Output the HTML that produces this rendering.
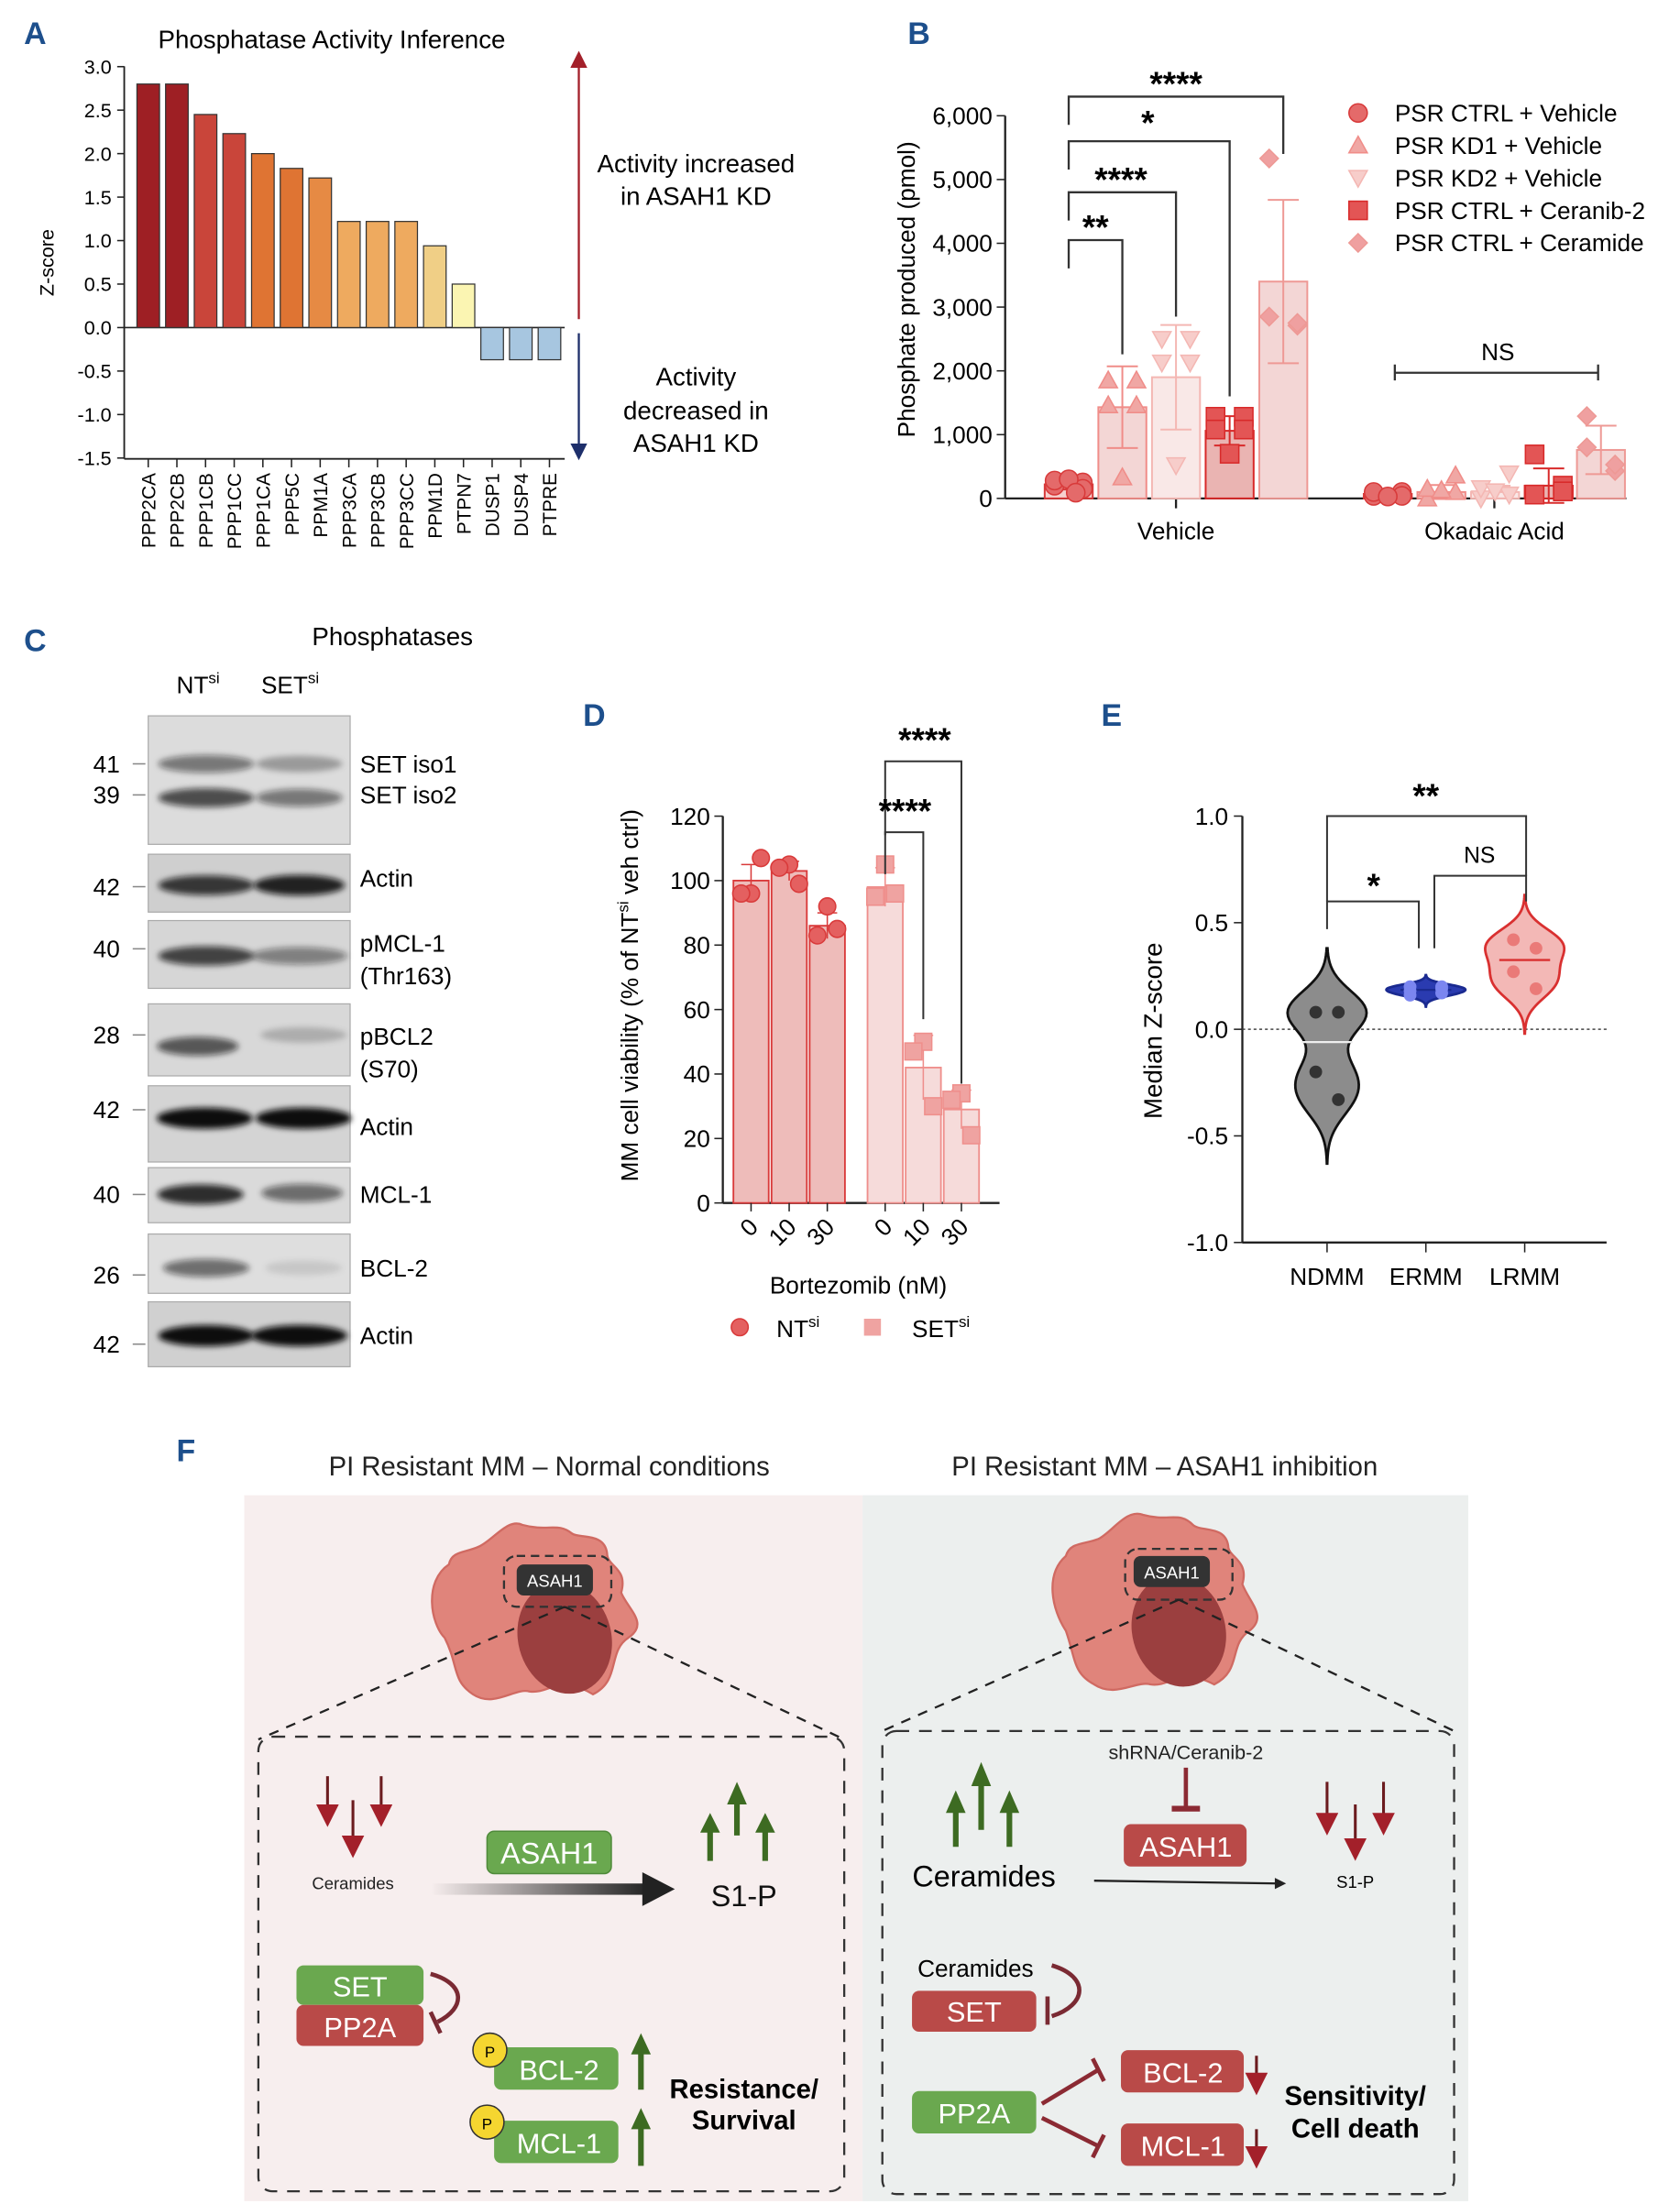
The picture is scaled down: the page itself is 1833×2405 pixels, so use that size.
<!DOCTYPE html>
<html><head><meta charset="utf-8">
<style>
html,body{margin:0;padding:0;background:#fff;}
svg{display:block;font-family:"Liberation Sans",Arial,sans-serif;}
</style></head>
<body>
<svg id="fig" width="1833" height="2405" viewBox="0 0 1190 1561" preserveAspectRatio="none" xmlns="http://www.w3.org/2000/svg">
<defs>
<filter id="blur" x="-20%" y="-100%" width="140%" height="300%"><feGaussianBlur stdDeviation="2"/></filter>
<linearGradient id="arrg" x1="0" x2="1"><stop offset="0" stop-color="#222" stop-opacity="0"/><stop offset="1" stop-color="#222"/></linearGradient>
<marker id="ahR" markerWidth="8" markerHeight="8" refX="4" refY="4" orient="auto"><path d="M0,0 L8,4 L0,8z" fill="#a3202a"/></marker>
<marker id="ahB" markerWidth="8" markerHeight="8" refX="4" refY="4" orient="auto"><path d="M0,0 L8,4 L0,8z" fill="#1e2f6b"/></marker>
</defs>

<g fill="#1d4f8c" font-weight="bold" font-size="22">
<text x="17" y="31">A</text>
<text x="643" y="31">B</text>
<text x="17" y="461">C</text>
<text x="413" y="514">D</text>
<text x="780" y="514">E</text>
<text x="125" y="1035">F</text>
</g>

<g id="pA"></g>
<g id="pB"></g>
<g id="pC"></g>
<g id="pD"></g>
<g id="pE"></g>

<g>
<text x="389" y="1045" font-size="19" text-anchor="middle" fill="#222">PI Resistant MM – Normal conditions</text>
<text x="825" y="1045" font-size="19" text-anchor="middle" fill="#222">PI Resistant MM – ASAH1 inhibition</text>
<rect x="173" y="1059" width="438" height="500" fill="#f7eeee"/>
<rect x="611" y="1059" width="429" height="500" fill="#ecefee"/>
<path d="M318,1108 C300,1120 305,1150 315,1160 C325,1180 320,1190 335,1200 C350,1210 365,1195 375,1198 C390,1200 395,1185 420,1200 C440,1190 430,1170 445,1160 C460,1150 445,1140 440,1128 C445,1110 430,1110 430,1100 C428,1085 410,1090 405,1086 C395,1078 388,1085 370,1080 C360,1075 350,1090 340,1095 C330,1100 320,1098 318,1108z" fill="#e0847b" stroke="#d06a62" stroke-width="1.5"/>
<ellipse cx="400" cy="1160" rx="33" ry="40" transform="rotate(-15 400 1160)" fill="#9b3f3f"/>
<rect x="357" y="1102" width="76" height="36" rx="9" fill="none" stroke="#333" stroke-dasharray="6,4" stroke-width="1.5"/>
<rect x="366" y="1108" width="54" height="22" rx="5" fill="#333"/>
<text x="393" y="1124" font-size="12" fill="#fff" text-anchor="middle">ASAH1</text>
<path d="M400,1138 L183,1232 M400,1138 L598,1232" stroke="#222" stroke-dasharray="7,6" stroke-width="1.5"/>
<rect x="183" y="1230" width="415" height="322" rx="10" fill="none" stroke="#333" stroke-dasharray="9,7" stroke-width="1.5"/>
<g stroke="#6b1b1e" stroke-width="2" marker-end="url(#ahR)"><line x1="232" y1="1258" x2="232" y2="1286"/><line x1="250" y1="1275" x2="250" y2="1308"/><line x1="270" y1="1258" x2="270" y2="1286"/></g>
<text x="250" y="1338" font-size="12" text-anchor="middle" fill="#222">Ceramides</text>
<rect x="305" y="1334" width="155" height="8" fill="url(#arrg)"/><path d="M455,1326 L478,1338 L455,1350z" fill="#222"/>
<rect x="345" y="1297" width="88" height="30" rx="5" fill="#6aa84f" stroke="#4f8a3a"/>
<text x="389" y="1320" font-size="21" fill="#fff" text-anchor="middle">ASAH1</text>
<g stroke="#3d6b22" stroke-width="4"><line x1="503" y1="1318" x2="503" y2="1296"/><line x1="522" y1="1300" x2="522" y2="1275"/><line x1="542" y1="1318" x2="542" y2="1296"/></g>
<g fill="#3d6b22"><path d="M496,1298 L503,1284 L510,1298z"/><path d="M515,1278 L522,1262 L529,1278z"/><path d="M535,1298 L542,1284 L549,1298z"/></g>
<text x="527" y="1350" font-size="21" text-anchor="middle" fill="#111">S1-P</text>
<rect x="210" y="1392" width="90" height="28" rx="5" fill="#6aa84f"/><text x="255" y="1414" font-size="20" fill="#fff" text-anchor="middle">SET</text>
<rect x="210" y="1420" width="90" height="29" rx="5" fill="#b94a48"/><text x="255" y="1443" font-size="20" fill="#fff" text-anchor="middle">PP2A</text>
<path d="M305,1398 C330,1405 330,1422 310,1432 M305,1425 L312,1440" stroke="#7a2a33" stroke-width="3" fill="none"/>
<rect x="350" y="1450" width="88" height="30" rx="5" fill="#6aa84f"/><text x="396" y="1473" font-size="20" fill="#fff" text-anchor="middle">BCL-2</text>
<circle cx="347" cy="1452" r="12" fill="#f5d630" stroke="#333"/><text x="347" y="1457" font-size="11" text-anchor="middle">P</text>
<rect x="350" y="1502" width="88" height="30" rx="5" fill="#6aa84f"/><text x="396" y="1525" font-size="20" fill="#fff" text-anchor="middle">MCL-1</text>
<circle cx="345" cy="1503" r="12" fill="#f5d630" stroke="#333"/><text x="345" y="1508" font-size="11" text-anchor="middle">P</text>
<g stroke="#3d6b22" stroke-width="4"><line x1="454" y1="1480" x2="454" y2="1452"/><line x1="454" y1="1534" x2="454" y2="1505"/></g>
<g fill="#3d6b22"><path d="M447,1455 L454,1440 L461,1455z"/><path d="M447,1508 L454,1493 L461,1508z"/></g>
<text x="527" y="1486" font-size="19" font-weight="bold" text-anchor="middle">Resistance/</text>
<text x="527" y="1508" font-size="19" font-weight="bold" text-anchor="middle">Survival</text>
<path d="M755,1102 C740,1115 745,1140 755,1155 C762,1175 760,1185 775,1193 C790,1203 805,1190 815,1193 C830,1195 835,1180 860,1193 C880,1183 870,1165 885,1155 C898,1145 885,1135 880,1122 C885,1105 870,1103 870,1095 C868,1080 850,1085 845,1080 C835,1070 828,1078 810,1073 C798,1068 788,1085 778,1090 C768,1094 758,1092 755,1102z" fill="#e0847b" stroke="#d06a62" stroke-width="1.5"/>
<ellipse cx="835" cy="1155" rx="33" ry="40" transform="rotate(-15 835 1155)" fill="#9b3f3f"/>
<rect x="797" y="1097" width="76" height="36" rx="9" fill="none" stroke="#333" stroke-dasharray="6,4" stroke-width="1.5"/>
<rect x="803" y="1102" width="54" height="22" rx="5" fill="#333"/>
<text x="830" y="1118" font-size="12" fill="#fff" text-anchor="middle">ASAH1</text>
<path d="M835,1133 L625,1226 M835,1133 L1030,1226" stroke="#222" stroke-dasharray="7,6" stroke-width="1.5"/>
<rect x="625" y="1226" width="405" height="328" rx="10" fill="none" stroke="#333" stroke-dasharray="9,7" stroke-width="1.5"/>
<text x="840" y="1246" font-size="14" text-anchor="middle" fill="#222">shRNA/Ceranib-2</text>
<line x1="840" y1="1252" x2="840" y2="1280" stroke="#8b2a33" stroke-width="3"/><line x1="830" y1="1281" x2="850" y2="1281" stroke="#8b2a33" stroke-width="4"/>
<rect x="796" y="1292" width="87" height="30" rx="5" fill="#b94a48"/><text x="840" y="1315" font-size="20" fill="#fff" text-anchor="middle">ASAH1</text>
<g stroke="#3d6b22" stroke-width="4"><line x1="677" y1="1308" x2="677" y2="1282"/><line x1="695" y1="1296" x2="695" y2="1264"/><line x1="715" y1="1308" x2="715" y2="1282"/></g>
<g fill="#3d6b22"><path d="M670,1284 L677,1268 L684,1284z"/><path d="M688,1265 L695,1248 L702,1265z"/><path d="M708,1284 L715,1268 L722,1284z"/></g>
<text x="697" y="1336" font-size="21" text-anchor="middle">Ceramides</text>
<line x1="775" y1="1332" x2="905" y2="1334" stroke="#222" stroke-width="1.5"/><path d="M903,1330 L911,1334 L903,1338z" fill="#222"/>
<g stroke="#6b1b1e" stroke-width="2" marker-end="url(#ahR)"><line x1="940" y1="1262" x2="940" y2="1292"/><line x1="960" y1="1278" x2="960" y2="1310"/><line x1="980" y1="1262" x2="980" y2="1292"/></g>
<text x="960" y="1337" font-size="12" text-anchor="middle">S1-P</text>
<text x="691" y="1400" font-size="17" text-anchor="middle">Ceramides</text>
<path d="M745,1392 C772,1400 770,1420 745,1428 M742,1414 L742,1434" stroke="#7a2a33" stroke-width="3" fill="none"/>
<rect x="646" y="1410" width="88" height="29" rx="5" fill="#b94a48"/><text x="690" y="1432" font-size="20" fill="#fff" text-anchor="middle">SET</text>
<rect x="646" y="1481" width="88" height="30" rx="5" fill="#6aa84f"/><text x="690" y="1504" font-size="20" fill="#fff" text-anchor="middle">PP2A</text>
<path d="M738,1490 L778,1466 M738,1500 L778,1520" stroke="#8b2a33" stroke-width="3"/><line x1="774" y1="1458" x2="782" y2="1474" stroke="#8b2a33" stroke-width="3"/><line x1="774" y1="1528" x2="782" y2="1512" stroke="#8b2a33" stroke-width="3"/>
<rect x="794" y="1452" width="87" height="30" rx="5" fill="#b94a48"/><text x="838" y="1475" font-size="20" fill="#fff" text-anchor="middle">BCL-2</text>
<rect x="794" y="1504" width="87" height="30" rx="5" fill="#b94a48"/><text x="838" y="1527" font-size="20" fill="#fff" text-anchor="middle">MCL-1</text>
<g stroke="#6b1b1e" stroke-width="2" marker-end="url(#ahR)"><line x1="890" y1="1456" x2="890" y2="1476"/><line x1="890" y1="1508" x2="890" y2="1528"/></g>
<text x="960" y="1491" font-size="19" font-weight="bold" text-anchor="middle">Sensitivity/</text>
<text x="960" y="1514" font-size="19" font-weight="bold" text-anchor="middle">Cell death</text>
</g>

<script>
const NS="http://www.w3.org/2000/svg";
function mk(parent,tag,attrs,txt){const e=document.createElementNS(NS,tag);for(const k in attrs)e.setAttribute(k,attrs[k]);if(txt!==undefined)e.textContent=txt;parent.appendChild(e);return e;}

/* ---------- Panel A ---------- */
const aCategories=["PPP2CA","PPP2CB","PPP1CB","PPP1CC","PPP1CA","PPP5C","PPM1A","PPP3CA","PPP3CB","PPP3CC","PPM1D","PTPN7","DUSP1","DUSP4","PTPRE"];
const aValues=[2.8,2.8,2.45,2.23,2.0,1.83,1.72,1.22,1.22,1.22,0.94,0.5,-0.37,-0.37,-0.37];
const aColors=["#9e1f24","#9e1f24","#c9453a","#c9453a","#df7433","#df7433","#e68a44","#eeaa5f","#eeaa5f","#eeaa5f","#f0cf86","#fbf5b2","#a7c6e0","#a7c6e0","#a7c6e0"];
const aTicks=[3.0,2.5,2.0,1.5,1.0,0.5,0.0,-0.5,-1.0,-1.5];
(function(){
 const g=document.getElementById('pA');
 const y=v=>232-v*61.6, x0=96, step=20.3;
 mk(g,'text',{x:235,y:34,'font-size':18,'text-anchor':'middle',},'Phosphatase Activity Inference');
 mk(g,'line',{x1:88,y1:47,x2:88,y2:325,stroke:'#222','stroke-width':1.2});
 mk(g,'line',{x1:88,y1:325,x2:400,y2:325,stroke:'#222','stroke-width':1.2});
 mk(g,'line',{x1:88,y1:y(0),x2:400,y2:y(0),stroke:'#222','stroke-width':1});
 aTicks.forEach(t=>{mk(g,'line',{x1:83,y1:y(t),x2:88,y2:y(t),stroke:'#222'});
  const tl=mk(g,'text',{x:79,y:y(t)+5,'font-size':14,'text-anchor':'end'},t.toFixed(1));
  
  });
 const yt=mk(g,'text',{x:38,y:186,'font-size':14,'text-anchor':'middle',transform:'rotate(-90 38 186)'},'Z-score');
 
 
 aCategories.forEach((c,i)=>{
  const cx=x0+i*step+9, v=aValues[i];
  const r=mk(g,'rect',{x:cx-8,y:Math.min(y(v),y(0)),width:16,height:Math.abs(y(v)-y(0)),fill:aColors[i],stroke:'#333','stroke-width':0.8});
  
  
  mk(g,'line',{x1:cx,y1:325,x2:cx,y2:331,stroke:'#222'});
  const t=mk(g,'text',{x:cx+5,y:335,'font-size':13.5,'text-anchor':'end',transform:`rotate(-90 ${cx+5} 335)`},c);
  
  
 });
 mk(g,'line',{x1:410,y1:226,x2:410,y2:42,stroke:'#a3202a','stroke-width':1.5,'marker-end':'url(#ahR)'});
 mk(g,'line',{x1:410,y1:236,x2:410,y2:320,stroke:'#1e2f6b','stroke-width':1.5,'marker-end':'url(#ahB)'});
 [['Activity increased',122],['in ASAH1 KD',145]].forEach(a=>mk(g,'text',{x:493,y:a[1],'font-size':18,'text-anchor':'middle'},a[0]));
 [['Activity',273],['decreased in',297],['ASAH1 KD',320]].forEach(a=>mk(g,'text',{x:493,y:a[1],'font-size':18,'text-anchor':'middle'},a[0]));
})();

/* ---------- Panel B ---------- */
const bGroups=["Vehicle","Okadaic Acid"];
const bSeries=["PSR CTRL + Vehicle","PSR KD1 + Vehicle","PSR KD2 + Vehicle","PSR CTRL + Ceranib-2","PSR CTRL + Ceramide"];
const bMeansVehicle=[220,1430,1900,1060,3400];
const bSdVehicle=[80,640,820,230,1280];
const bMeansOkadaic=[70,100,100,200,760];
const bSdOkadaic=[40,110,100,270,380];
const bPointsVehicle=[[200,250,280,150,300,90],[1850,1850,1460,1460,330],[2500,2500,2130,2130,520],[1280,1280,1080,1080,700],[5330,2710,2850,2750]];
const bPointsOkadaic=[[40,100,100,40,30],[0,100,150,360,130],[0,60,160,390,110],[60,200,690,110],[1290,430,800,530]];
const bTicks=[0,1000,2000,3000,4000,5000,6000];
(function(){
 const g=document.getElementById('pB');
 const y=v=>353-v*0.04517;
 const shapes=['circle','tri','itri','square','diamond'];
 const fills=['#e46a6a','#f0a7a4','#f7cdca','#e35555','#efa0a0'];
 const barFills=['#f6d1cf','#f3d6d5','#f9e8e7','#eab4b2','#f3d6d5'];
 const strokes=['#d83a3a','#f08d89','#f4b7b3','#d82a2a','#ee9995'];
 function sym(s,cx,cy,f,st){
  const r=6.5;let e;
  if(s==='circle')e=mk(g,'circle',{cx,cy,r,fill:f,stroke:st});
  else if(s==='square')e=mk(g,'rect',{x:cx-r,y:cy-r,width:2*r,height:2*r,fill:f,stroke:st});
  else if(s==='tri')e=mk(g,'path',{d:`M${cx},${cy-r} L${cx+r},${cy+r*0.8} L${cx-r},${cy+r*0.8}z`,fill:f,stroke:st});
  else if(s==='itri')e=mk(g,'path',{d:`M${cx},${cy+r} L${cx+r},${cy-r*0.8} L${cx-r},${cy-r*0.8}z`,fill:f,stroke:st});
  else e=mk(g,'path',{d:`M${cx},${cy-r} L${cx+r},${cy} L${cx},${cy+r} L${cx-r},${cy}z`,fill:f,stroke:st});
  return e;}
 mk(g,'line',{x1:712,y1:82,x2:712,y2:353,stroke:'#222','stroke-width':1.5});
 mk(g,'line',{x1:712,y1:353,x2:1152,y2:353,stroke:'#222','stroke-width':1.5});
 bTicks.forEach(t=>{mk(g,'line',{x1:706,y1:y(t),x2:712,y2:y(t),stroke:'#222'});
  const tl=mk(g,'text',{x:703,y:y(t)+6,'font-size':17,'text-anchor':'end'},t.toLocaleString('en-US'));
  
  });
 const yt=mk(g,'text',{x:648,y:205,'font-size':17,'text-anchor':'middle',transform:'rotate(-90 648 205)'},'Phosphate produced (pmol)');
 
 
 const centers=[[757,795,833,871,909],[983,1021,1059,1097,1134]];
 [bMeansVehicle,bMeansOkadaic].forEach((means,gi)=>{
  const sds=gi?bSdOkadaic:bSdVehicle, pts=gi?bPointsOkadaic:bPointsVehicle;
  const gc=(centers[gi][0]+centers[gi][4])/2;
  mk(g,'line',{x1:gc,y1:353,x2:gc,y2:360,stroke:'#222','stroke-width':1.5});
  const gl=mk(g,'text',{x:gc,y:382,'font-size':17,'text-anchor':'middle'},bGroups[gi]);
  
  
  means.forEach((m,i)=>{
   const cx=centers[gi][i];
   const r=mk(g,'rect',{x:cx-17,y:y(m),width:34,height:353-y(m),fill:barFills[i],stroke:strokes[i],'stroke-width':1.3});
   
   
   mk(g,'line',{x1:cx,y1:y(m-sds[i]),x2:cx,y2:y(m+sds[i]),stroke:strokes[i],'stroke-width':1.3});
   [m-sds[i],m+sds[i]].forEach(v=>mk(g,'line',{x1:cx-11,y1:y(v),x2:cx+11,y2:y(v),stroke:strokes[i],'stroke-width':1.3}));
   const n=pts[i].length;
   const offs=[-10,10,-10,10,0,5];
   pts[i].forEach((p,k)=>{const dx=n>1?offs[k]:0;const s=sym(shapes[i],cx+dx,y(p),fills[i],strokes[i]);
    
    });
  });
 });
 const br=[[4050,795,2260,'**'],[4800,833,2850,'****'],[5600,871,1600,'*'],[6300,909,5400,'****']];
 br.forEach(b=>{const top=y(b[0]);
  mk(g,'path',{d:`M757,${top+20} L757,${top} L${b[1]},${top} L${b[1]},${y(b[2])}`,fill:'none',stroke:'#333','stroke-width':1.5});
  const tx={'**':776,'*':813}[b[3]]||(b[0]>6000?833:794);
  mk(g,'text',{x:tx,y:top-5+(b[3].length>1?4:0),'font-size':24,'font-weight':'bold','text-anchor':'middle'},b[3]);});
 mk(g,'path',{d:`M988,${y(2100)} L988,${y(1850)} M988,${y(1970)} L1132,${y(1970)} M1132,${y(2100)} L1132,${y(1850)}`,stroke:'#333','stroke-width':1.5,fill:'none'});
 mk(g,'text',{x:1061,y:y(2170),'font-size':17,'text-anchor':'middle'},'NS');
 bSeries.forEach((s,i)=>{const ly=80+i*23;sym(shapes[i],962,ly,fills[i],strokes[i]);
  const t=mk(g,'text',{x:988,y:ly+6,'font-size':17},s);
  
  });
})();

/* ---------- Panel C (blots) ---------- */
(function(){
 const g=document.getElementById('pC');
 mk(g,'text',{x:278,y:457,'font-size':18,'text-anchor':'middle'},'Phosphatases');
 const h1=mk(g,'text',{x:125,y:491,'font-size':17},'NT');mk(h1,'tspan',{'font-size':11,dy:-7},'si');
 const h2=mk(g,'text',{x:185,y:491,'font-size':17},'SET');mk(h2,'tspan',{'font-size':11,dy:-7},'si');
 const rows=[
  {y:507,h:91,bg:'#dcdcdc',bands:[[146,541,0.5,1],[212,541,0.3,0.9],[146,565,0.7,1],[212,565,0.5,0.9]],mw:[['41',541],['39',563]],lab:[['SET iso1',541],['SET iso2',563]]},
  {y:605,h:41,bg:'#cfcfcf',bands:[[146,627,0.8,1],[212,627,0.9,0.95]],mw:[['42',628]],lab:[['Actin',622]]},
  {y:652,h:48,bg:'#d6d6d6',bands:[[146,677,0.75,1],[212,677,0.45,1]],mw:[['40',672]],lab:[['pMCL-1',668],['(Thr163)',691]]},
  {y:711,h:51,bg:'#d8d8d8',bands:[[140,741,0.65,0.85],[215,733,0.2,0.9]],mw:[['28',733]],lab:[['pBCL2',734],['(S70)',757]]},
  {y:769,h:54,bg:'#d4d4d4',bands:[[145,792,1,1],[215,792,1,1]],mw:[['42',786]],lab:[['Actin',798]]},
  {y:827,h:39,bg:'#dadada',bands:[[142,846,0.85,0.9],[214,845,0.55,0.85]],mw:[['40',846]],lab:[['MCL-1',846]]},
  {y:874,h:42,bg:'#dedede',bands:[[146,898,0.55,0.9],[215,898,0.1,0.8]],mw:[['26',903]],lab:[['BCL-2',898]]},
  {y:922,h:46,bg:'#d0d0d0',bands:[[146,946,1,1],[212,946,1,1]],mw:[['42',952]],lab:[['Actin',946]]}
 ];
 rows.forEach((r,i)=>{
  const rr=mk(g,'rect',{x:105,y:r.y,width:143,height:r.h,fill:r.bg,stroke:'#aaa','stroke-width':0.8});
  
  
  r.bands.forEach(b=>mk(g,'ellipse',{cx:b[0],cy:b[1],rx:34*b[3],ry:5+2.5*b[2],fill:'#111','fill-opacity':b[2],filter:'url(#blur)'}));
  r.mw.forEach(m=>{mk(g,'text',{x:66,y:m[1]+6,'font-size':17},m[0]);mk(g,'line',{x1:94,y1:m[1],x2:103,y2:m[1],stroke:'#888'});});
  r.lab.forEach(l=>mk(g,'text',{x:255,y:l[1]+6,'font-size':17},l[0]));
 });
})();

/* ---------- Panel D ---------- */
const dDoses=["0","10","30"];
const dNTMeans=[100,103,86];
const dSETMeans=[98,42,29];
const dNTPoints=[[96,96,107],[105,104,99],[92,83,85]];
const dSETPoints=[[105,95,96],[50,47,30],[34,32,21]];
const dNTSd=[5,3,4];
const dSETSd=[6,10,6];
const dTicks=[0,20,40,60,80,100,120];
(function(){
 const g=document.getElementById('pD');
 const y=v=>852-v*2.283;
 mk(g,'line',{x1:512,y1:578,x2:512,y2:852,stroke:'#222','stroke-width':1.5});
 mk(g,'line',{x1:512,y1:852,x2:708,y2:852,stroke:'#222','stroke-width':1.5});
 dTicks.forEach(t=>{mk(g,'line',{x1:506,y1:y(t),x2:512,y2:y(t),stroke:'#222'});
  const tl=mk(g,'text',{x:503,y:y(t)+6,'font-size':17,'text-anchor':'end'},t);
  
  });
 const yt=mk(g,'text',{x:452,y:705,'font-size':17,'text-anchor':'middle',transform:'rotate(-90 452 705)'},'MM cell viability (% of NT');
 mk(yt,'tspan',{'font-size':11,dy:-7},'si');mk(yt,'tspan',{dy:7},' veh ctrl)');
 
 
 const cx=[[532,559,586],[627,654,681]];
 [[dNTMeans,dNTPoints,dNTSd,'#eebcba','#d93a3a','#e46060'],[dSETMeans,dSETPoints,dSETSd,'#f6dbda','#ef8f8c','#efa3a1']].forEach((s,si)=>{
  s[0].forEach((m,i)=>{const x=cx[si][i];
   const r=mk(g,'rect',{x:x-12.5,y:y(m),width:25,height:852-y(m),fill:s[3],stroke:s[4],'stroke-width':1.2});
   
   
   mk(g,'line',{x1:x,y1:y(m-s[2][i]),x2:x,y2:y(m+s[2][i]),stroke:s[4]});
   mk(g,'line',{x1:x-7,y1:y(m+s[2][i]),x2:x+7,y2:y(m+s[2][i]),stroke:s[4]});
   s[1][i].forEach((p,k)=>{const dx=[0,-7,7][k];
    const e=si?mk(g,'rect',{x:x+dx-6,y:y(p)-6,width:12,height:12,fill:s[5],stroke:s[4]}):mk(g,'circle',{cx:x+dx,cy:y(p),r:6,fill:s[5],stroke:s[4]});
    
    });
   mk(g,'line',{x1:x,y1:852,x2:x,y2:858,stroke:'#222'});
   mk(g,'text',{x:x+6,y:870,'font-size':17,'text-anchor':'end',transform:`rotate(-45 ${x+6} 870)`},dDoses[i]);
  });
 });
 mk(g,'path',{d:`M627,${y(102)} L627,${y(115)} L654,${y(115)} L654,${y(57)}`,fill:'none',stroke:'#333','stroke-width':1.3});
 mk(g,'path',{d:`M627,${y(115)+2} L627,${y(137)} L681,${y(137)} L681,${y(37)}`,fill:'none',stroke:'#333','stroke-width':1.3});
 mk(g,'text',{x:641,y:y(118),'font-size':24,'font-weight':'bold','text-anchor':'middle'},'****');
 mk(g,'text',{x:655,y:y(140),'font-size':24,'font-weight':'bold','text-anchor':'middle'},'****');
 mk(g,'text',{x:608,y:916,'font-size':17,'text-anchor':'middle'},'Bortezomib (nM)');
 mk(g,'circle',{cx:524,cy:940,r:6,fill:'#e46060',stroke:'#d93a3a'});
 const l1=mk(g,'text',{x:550,y:947,'font-size':17},'NT');mk(l1,'tspan',{'font-size':11,dy:-7},'si');
 
 
 mk(g,'rect',{x:612,y:934,width:12,height:12,fill:'#efa3a1'});
 const l2=mk(g,'text',{x:646,y:947,'font-size':17},'SET');mk(l2,'tspan',{'font-size':11,dy:-7},'si');
 
 
})();

/* ---------- Panel E ---------- */
const eCategories=["NDMM","ERMM","LRMM"];
const eNDMM=[0.08,0.08,-0.2,-0.33];
const eERMM=[0.2,0.19,0.18,0.17,0.16,0.2];
const eLRMM=[0.42,0.38,0.27,0.19];
const eTicks=[1.0,0.5,0.0,-0.5,-1.0];
(function(){
 const g=document.getElementById('pE');
 const y=v=>729-v*151;
 mk(g,'line',{x1:880,y1:578,x2:880,y2:880,stroke:'#222','stroke-width':1.5});
 mk(g,'line',{x1:880,y1:880,x2:1138,y2:880,stroke:'#222','stroke-width':1.5});
 mk(g,'line',{x1:880,y1:y(0),x2:1138,y2:y(0),stroke:'#444','stroke-width':1,'stroke-dasharray':'2,2'});
 eTicks.forEach(t=>{mk(g,'line',{x1:874,y1:y(t),x2:880,y2:y(t),stroke:'#222'});
  const tl=mk(g,'text',{x:870,y:y(t)+6,'font-size':17,'text-anchor':'end'},t.toFixed(1));
  
  });
 const yt=mk(g,'text',{x:823,y:730,'font-size':18,'text-anchor':'middle',transform:'rotate(-90 823 730)'},'Median Z-score');
 
 
 const xs=[940,1010,1080];
 const cfg=[[eNDMM,'#8c8c8c','#111','#333',0.1,28],[eERMM,'#2a3bb0','#1a2a90','#7b86f0',0.018,28],[eLRMM,'#f3b8b6','#d93030','#ea7a78',0.07,28]];
 cfg.forEach((c,i)=>{
  const pts=c[0],bw=c[4],x=xs[i];
  const lo=Math.min(...pts)-3*bw,hi=Math.max(...pts)+3*bw;
  const dens=v=>pts.reduce((s,p)=>s+Math.exp(-0.5*((v-p)/bw)**2),0);
  const N=60;let mx=0;const arr=[];
  for(let k=0;k<=N;k++){const v=lo+(hi-lo)*k/N;const d=dens(v);arr.push([v,d]);mx=Math.max(mx,d);}
  let d='';arr.forEach((a,k)=>{d+=(k?'L':'M')+(x+a[1]/mx*c[5])+','+y(a[0]);});
  for(let k=arr.length-1;k>=0;k--){d+='L'+(x-arr[k][1]/mx*c[5])+','+y(arr[k][0]);}
  const v=mk(g,'path',{d:d+'z',fill:c[1],stroke:c[2],'stroke-width':1.8});
  
  
  const sorted=[...pts].sort((a,b)=>a-b);const med=(sorted[Math.floor((sorted.length-1)/2)]+sorted[Math.ceil((sorted.length-1)/2)])/2;
  mk(g,'line',{x1:x-18,y1:y(med),x2:x+18,y2:y(med),stroke:i==0?'#eee':c[2],'stroke-width':1.5});
  pts.forEach((p,k)=>{const e=mk(g,'circle',{cx:x+(k%2?8:-8)*(i==1?1.4:1),cy:y(p),r:4.5,fill:c[3]});
   
   });
  mk(g,'line',{x1:x,y1:880,x2:x,y2:887,stroke:'#222'});
  const tl=mk(g,'text',{x:x,y:910,'font-size':17,'text-anchor':'middle'},eCategories[i]);
  
  
 });
 mk(g,'path',{d:`M940,${y(0.47)} L940,${y(0.6)} L1005,${y(0.6)} L1005,${y(0.38)}`,fill:'none',stroke:'#333','stroke-width':1.3});
 mk(g,'path',{d:`M1016,${y(0.38)} L1016,${y(0.72)} L1081,${y(0.72)} L1081,${y(0.6)}`,fill:'none',stroke:'#333','stroke-width':1.3});
 mk(g,'path',{d:`M940,${y(0.6)} L940,${y(1.0)} L1081,${y(1.0)} L1081,${y(0.72)}`,fill:'none',stroke:'#333','stroke-width':1.3});
 mk(g,'text',{x:973,y:y(0.62),'font-size':24,'font-weight':'bold','text-anchor':'middle'},'*');
 mk(g,'text',{x:1048,y:y(0.78),'font-size':16,'text-anchor':'middle'},'NS');
 mk(g,'text',{x:1010,y:y(1.04),'font-size':24,'font-weight':'bold','text-anchor':'middle'},'**');
})();
</script>
</svg>
</body></html>
